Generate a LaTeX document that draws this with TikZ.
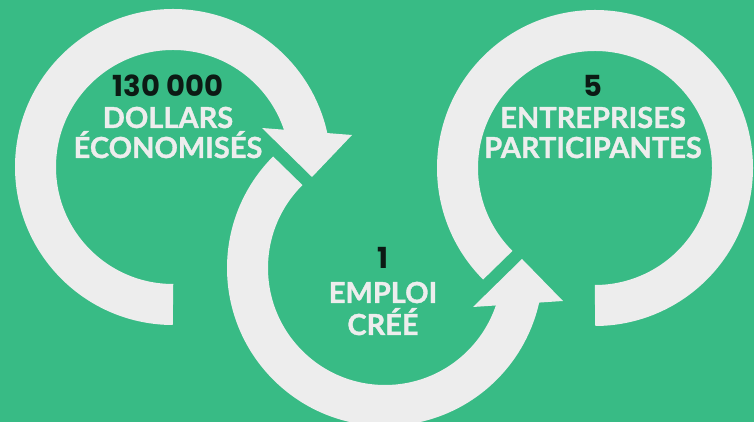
\documentclass[tikz,border=0pt]{standalone}
\usepackage{fontspec}
\setmainfont{Lato}
\newfontfamily\capfont{Lato}[BoldFeatures={FakeBold=1.2}]
\newfontfamily\numfont{Poppins}
\usepackage{xcolor}
\usetikzlibrary{calc,positioning}
\definecolor{bggreen}{HTML}{38BB85}
\definecolor{ringgray}{HTML}{EDEDED}
\definecolor{numblack}{HTML}{0C1A14}
\tikzset{
  ring/.style={draw=ringgray, line width=41pt},
  ringhead/.style={fill=ringgray},
  number/.style={font=\numfont\bfseries\fontsize{29}{31}\selectfont, text=numblack, inner sep=0pt, anchor=base},
  caption/.style={font=\capfont\bfseries\fontsize{29}{31}\selectfont, text=ringgray, inner sep=0pt, anchor=base},
}

\begin{document}
\begin{tikzpicture}[x=1pt,y=1pt]
      \fill[bggreen] (0,0) rectangle (754,422);
      \useasboundingbox (0,0) rectangle (754,422);
      \clip (0,0) rectangle (754,422);

      \coordinate (LeftC) at (173,255);
      \coordinate (MidC) at (385,154);
      \coordinate (RightC) at (595,254);

      % rings
      \path[ring] ($(LeftC)+(270:137.5)$) arc[start angle=270, end angle=12, radius=137.5];
      \path[ringhead] ($(LeftC)+(89,39)$) -- ($(LeftC)+(179,32)$) -- ($(LeftC)+(139,-10)$) -- cycle;
      \path[ring] ($(MidC)+(135:137.5)$) arc[start angle=135, end angle=348, radius=137.5];
      \path[ringhead] ($(MidC)+(88,-39)$) -- ($(MidC)+(178,-33)$) -- ($(MidC)+(137,9)$) -- cycle;
      \path[ring] ($(RightC)+(225:137.5)$) arc[start angle=225, end angle=-90, radius=137.5];

      % texts
      \node[number] (LeftNum) at (168,325) {130 000};
      \node[caption] (LeftTop) at ([yshift=-31pt]LeftNum.base) {DOLLARS};
      \node[caption] (LeftBot) at ([yshift=-30pt]LeftTop.base) {ÉCONOMISÉS};

      \node[number] (MidNum) at (383,153) {1};
      \node[caption] (MidTop) at ([yshift=-34pt]MidNum.base) {EMPLOI};
      \node[caption] (MidBot) at ([yshift=-32pt]MidTop.base) {CRÉÉ};

      \node[number] (RightNum) at (593,325) {5};
      \node[caption] (RightTop) at ([yshift=-31pt]RightNum.base) {ENTREPRISES};
      \node[caption] (RightBot) at ([yshift=-30pt]RightTop.base) {PARTICIPANTES};
\end{tikzpicture}
\end{document}
